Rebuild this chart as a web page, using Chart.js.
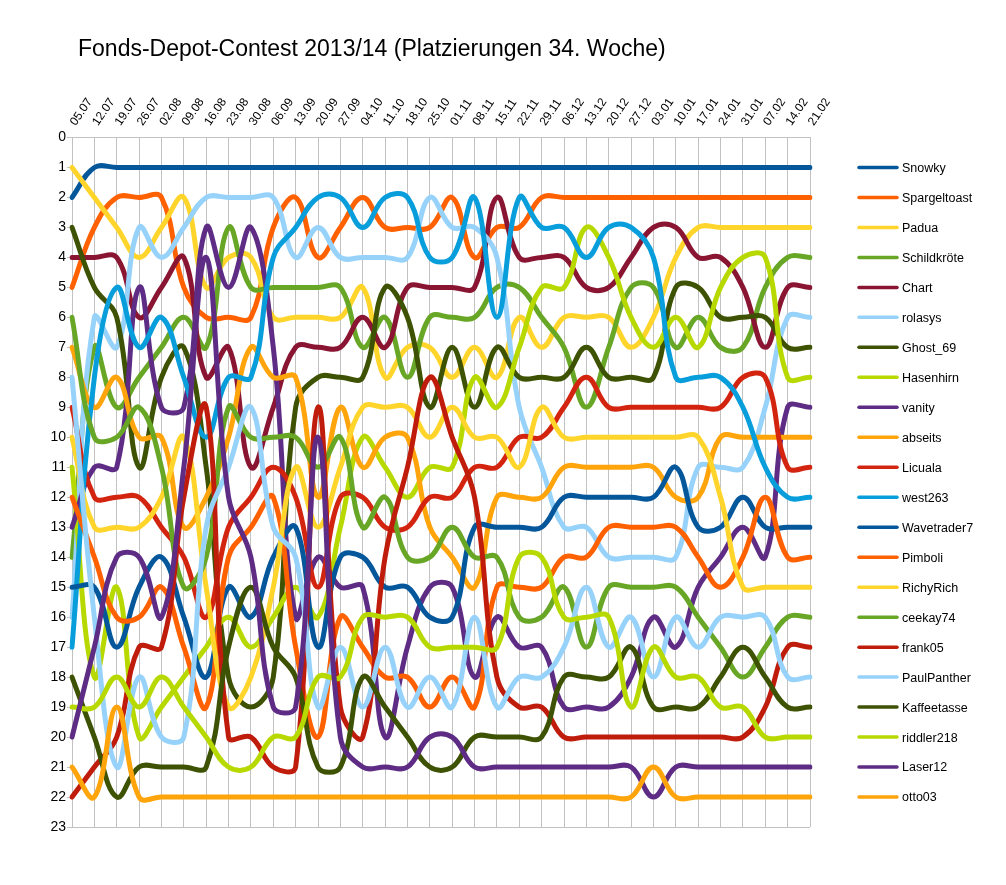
<!DOCTYPE html>
<html lang="de">
<head>
<meta charset="utf-8">
<title>Fonds-Depot-Contest 2013/14</title>
<script src="https://cdn.jsdelivr.net/npm/chart.js@4.4.1/dist/chart.umd.min.js"></script>
<style>
  html, body { margin: 0; padding: 0; background: #fff; }
  #wrap { width: 1006px; height: 885px; }
</style>
</head>
<body>
<div id="wrap"><canvas id="rankChart" width="1006" height="885"></canvas></div>
<script>
// ---- Wochen (x-Achse) ----
const weeks = ['05.07','12.07','19.07','26.07','02.08','09.08','16.08','23.08','30.08','06.09',
  '13.09','20.09','27.09','04.10','11.10','18.10','25.10','01.11','08.11','15.11','22.11','29.11',
  '06.12','13.12','20.12','27.12','03.01','10.01','17.01','24.01','31.01','07.02','14.02','21.02'];

const titleText = 'Fonds-Depot-Contest 2013/14 (Platzierungen 34. Woche)';

// ---- Platzierungen je Teilnehmer ----
const snowky       = [2,1,1,1,1,1,1,1,1,1,1,1,1,1,1,1,1,1,1,1,1,1,1,1,1,1,1,1,1,1,1,1,1,1];
const spargeltoast = [5,3,2,2,2,5,6,6,6,3,2,4,3,2,3,3,3,2,4,3,3,2,2,2,2,2,2,2,2,2,2,2,2,2];
const padua        = [1,2,3,4,3,2,5,4,4,6,6,6,6,5,8,7,7,8,7,8,6,7,6,6,6,7,6,4,3,3,3,3,3,3];
const schildkroete = [14,7,9,8,7,6,7,3,5,5,5,5,5,7,6,8,6,6,6,5,5,6,7,9,7,5,5,7,6,7,7,5,4,4];
const chart        = [4,4,4,6,5,4,8,7,11,9,7,7,7,6,7,5,5,5,5,2,4,4,4,5,5,4,3,3,4,4,5,7,5,5];
const rolasys      = [16,6,7,3,4,3,2,2,2,2,4,3,4,4,4,4,2,3,3,4,9,11,13,13,14,14,14,14,11,11,11,9,6,6];
const ghost69      = [3,5,6,11,8,7,11,18,19,18,9,8,8,8,5,6,9,7,9,7,8,8,8,7,8,8,8,5,5,6,6,6,7,7];
const hasenhirn    = [11,18,15,20,19,18,17,16,17,16,15,16,13,10,11,12,11,11,8,9,7,5,5,3,4,6,7,6,7,5,4,4,8,8];
const vanity       = [13,11,11,5,9,9,3,5,3,7,16,14,15,15,20,17,15,15,18,16,17,17,19,19,19,18,16,17,15,14,13,14,9,9];
const abseits      = [7,9,8,10,10,13,12,10,7,8,8,12,9,11,10,10,13,14,15,12,12,12,11,11,11,11,11,12,12,10,10,10,10,10];
const licuala      = [9,12,12,12,13,14,16,13,12,11,12,15,12,12,13,13,12,12,11,11,10,10,9,8,9,9,9,9,9,9,8,8,11,11];
const west263      = [17,8,5,7,6,8,10,8,8,4,3,2,2,3,2,2,4,4,2,6,2,3,3,4,3,3,4,8,8,8,9,11,12,12];
const wavetrader7  = [15,15,17,15,14,16,18,15,16,14,13,17,14,14,15,15,16,16,13,13,13,13,12,12,12,12,12,11,13,13,12,13,13,13];
const pimboli      = [12,14,16,16,15,17,19,14,13,12,17,20,16,17,18,18,19,18,19,15,15,15,14,14,13,13,13,13,14,15,14,12,14,14];
const richyRich    = [10,13,13,13,12,10,15,19,18,15,11,13,11,9,9,9,10,9,10,10,11,9,10,10,10,10,10,10,10,12,15,15,15,15];
const ceekay74     = [6,10,10,9,11,15,14,9,10,10,10,11,10,13,12,14,14,13,14,14,16,16,15,17,15,15,15,15,16,17,18,17,16,16];
const frank05      = [22,21,20,17,17,12,9,20,20,21,21,9,19,20,14,11,8,10,12,18,19,19,20,20,20,20,20,20,20,20,20,19,17,17];
const paulPanther  = [8,16,21,18,20,20,13,11,9,13,14,19,17,19,17,19,18,19,16,19,18,18,17,15,17,16,18,16,17,16,16,16,18,18];
const kaffeetasse  = [18,20,22,21,21,21,21,17,15,17,18,21,21,18,19,20,21,21,20,20,20,20,18,18,18,17,19,19,19,18,17,18,19,19];
const riddler218   = [19,19,18,19,18,19,20,21,21,20,20,18,18,16,16,16,17,17,17,17,14,14,16,16,16,19,17,18,18,19,19,20,20,20];
const laser12      = [20,17,14,14,16,11,4,12,14,19,19,10,20,21,21,21,20,20,21,21,21,21,21,21,21,21,22,21,21,21,21,21,21,21];
const otto03       = [21,22,19,22,22,22,22,22,22,22,22,22,22,22,22,22,22,22,22,22,22,22,22,22,22,22,21,22,22,22,22,22,22,22];

const seriesNames = ['Snowky','Spargeltoast','Padua','Schildkröte','Chart','rolasys','Ghost_69','Hasenhirn',
  'vanity','abseits','Licuala','west263','Wavetrader7','Pimboli','RichyRich','ceekay74','frank05',
  'PaulPanther','Kaffeetasse','riddler218','Laser12','otto03'];
const seriesValues = [snowky, spargeltoast, padua, schildkroete, chart, rolasys, ghost69, hasenhirn,
  vanity, abseits, licuala, west263, wavetrader7, pimboli, richyRich, ceekay74, frank05,
  paulPanther, kaffeetasse, riddler218, laser12, otto03];
const seriesColors = ['#05579c','#ff6000','#ffd52b','#68a626','#8a1533','#96d2fa','#3e5203','#b8d900',
  '#5e2c84','#ffa40a','#d32410','#089ddb','#05579c','#ff6000','#ffd52b','#68a626','#c01c0c',
  '#96d2fa','#3e5203','#b8d900','#5e2c84','#ffa40a'];

const FONT = '"Liberation Sans", Arial, Helvetica, sans-serif';
const GRID = '#c2c2c2';

// Titel, gedrehte Wochen-Beschriftung, Legende und untere Rahmenlinie
const decoPlugin = {
  id: 'deco',
  afterDraw(c) {
    const ctx = c.ctx, a = c.chartArea, xs = c.scales.x, ys = c.scales.y;
    ctx.save();
    ctx.strokeStyle = GRID;
    ctx.lineWidth = 1;
    ctx.beginPath();
    ctx.moveTo(a.left, Math.round(a.bottom) + 0.5);
    ctx.lineTo(a.right, Math.round(a.bottom) + 0.5);
    ctx.stroke();

    ctx.fillStyle = '#000';
    ctx.font = '23px ' + FONT;
    ctx.textBaseline = 'alphabetic';
    ctx.fillText(titleText, 78, 56);

    ctx.font = '12px ' + FONT;
    ctx.textAlign = 'left';
    ctx.textBaseline = 'middle';
    weeks.forEach((w, i) => {
      ctx.save();
      ctx.translate(xs.getPixelForValue(i) + 1, a.top - 13);
      ctx.rotate(-56 * Math.PI / 180);
      ctx.fillText(w, 0, 0);
      ctx.restore();
    });

    ctx.font = '12.5px ' + FONT;
    seriesNames.forEach((name, i) => {
      const ly = ys.getPixelForValue(i + 1);
      ctx.strokeStyle = seriesColors[i];
      ctx.lineWidth = 3.5;
      ctx.lineCap = 'round';
      ctx.beginPath();
      ctx.moveTo(859, ly);
      ctx.lineTo(897, ly);
      ctx.stroke();
      ctx.fillStyle = '#000';
      ctx.fillText(name, 902, ly + 1);
    });
    ctx.restore();
  }
};

const datasets = seriesNames.map((name, i) => ({
  label: name,
  data: seriesValues[i],
  borderColor: seriesColors[i],
  backgroundColor: seriesColors[i],
  borderWidth: 5,
  borderCapStyle: 'round',
  borderJoinStyle: 'round',
  pointRadius: 0,
  tension: 0.4,
  fill: false,
  order: seriesNames.length - i
}));

new Chart(document.getElementById('rankChart'), {
  type: 'line',
  data: { labels: weeks, datasets: datasets },
  plugins: [decoPlugin],
  options: {
    responsive: false,
    animation: false,
    layout: { padding: { left: 0, top: 0, right: 196, bottom: 58 } },
    plugins: { legend: { display: false }, title: { display: false }, tooltip: { enabled: false } },
    scales: {
      x: {
        position: 'top',
        offset: false,
        grid: { color: GRID, drawTicks: false },
        border: { color: GRID },
        ticks: { display: false, autoSkip: false },
        afterFit(s) { s.height = 137.5; }
      },
      y: {
        reverse: true,
        min: 0, max: 23,
        grid: { drawOnChartArea: false, drawTicks: true, tickLength: 5, color: GRID },
        border: { color: GRID },
        ticks: { stepSize: 1, color: '#000', font: { family: FONT, size: 14 }, padding: 1 },
        afterFit(s) { s.width = 72; }
      }
    }
  }
});
</script>
</body>
</html>
